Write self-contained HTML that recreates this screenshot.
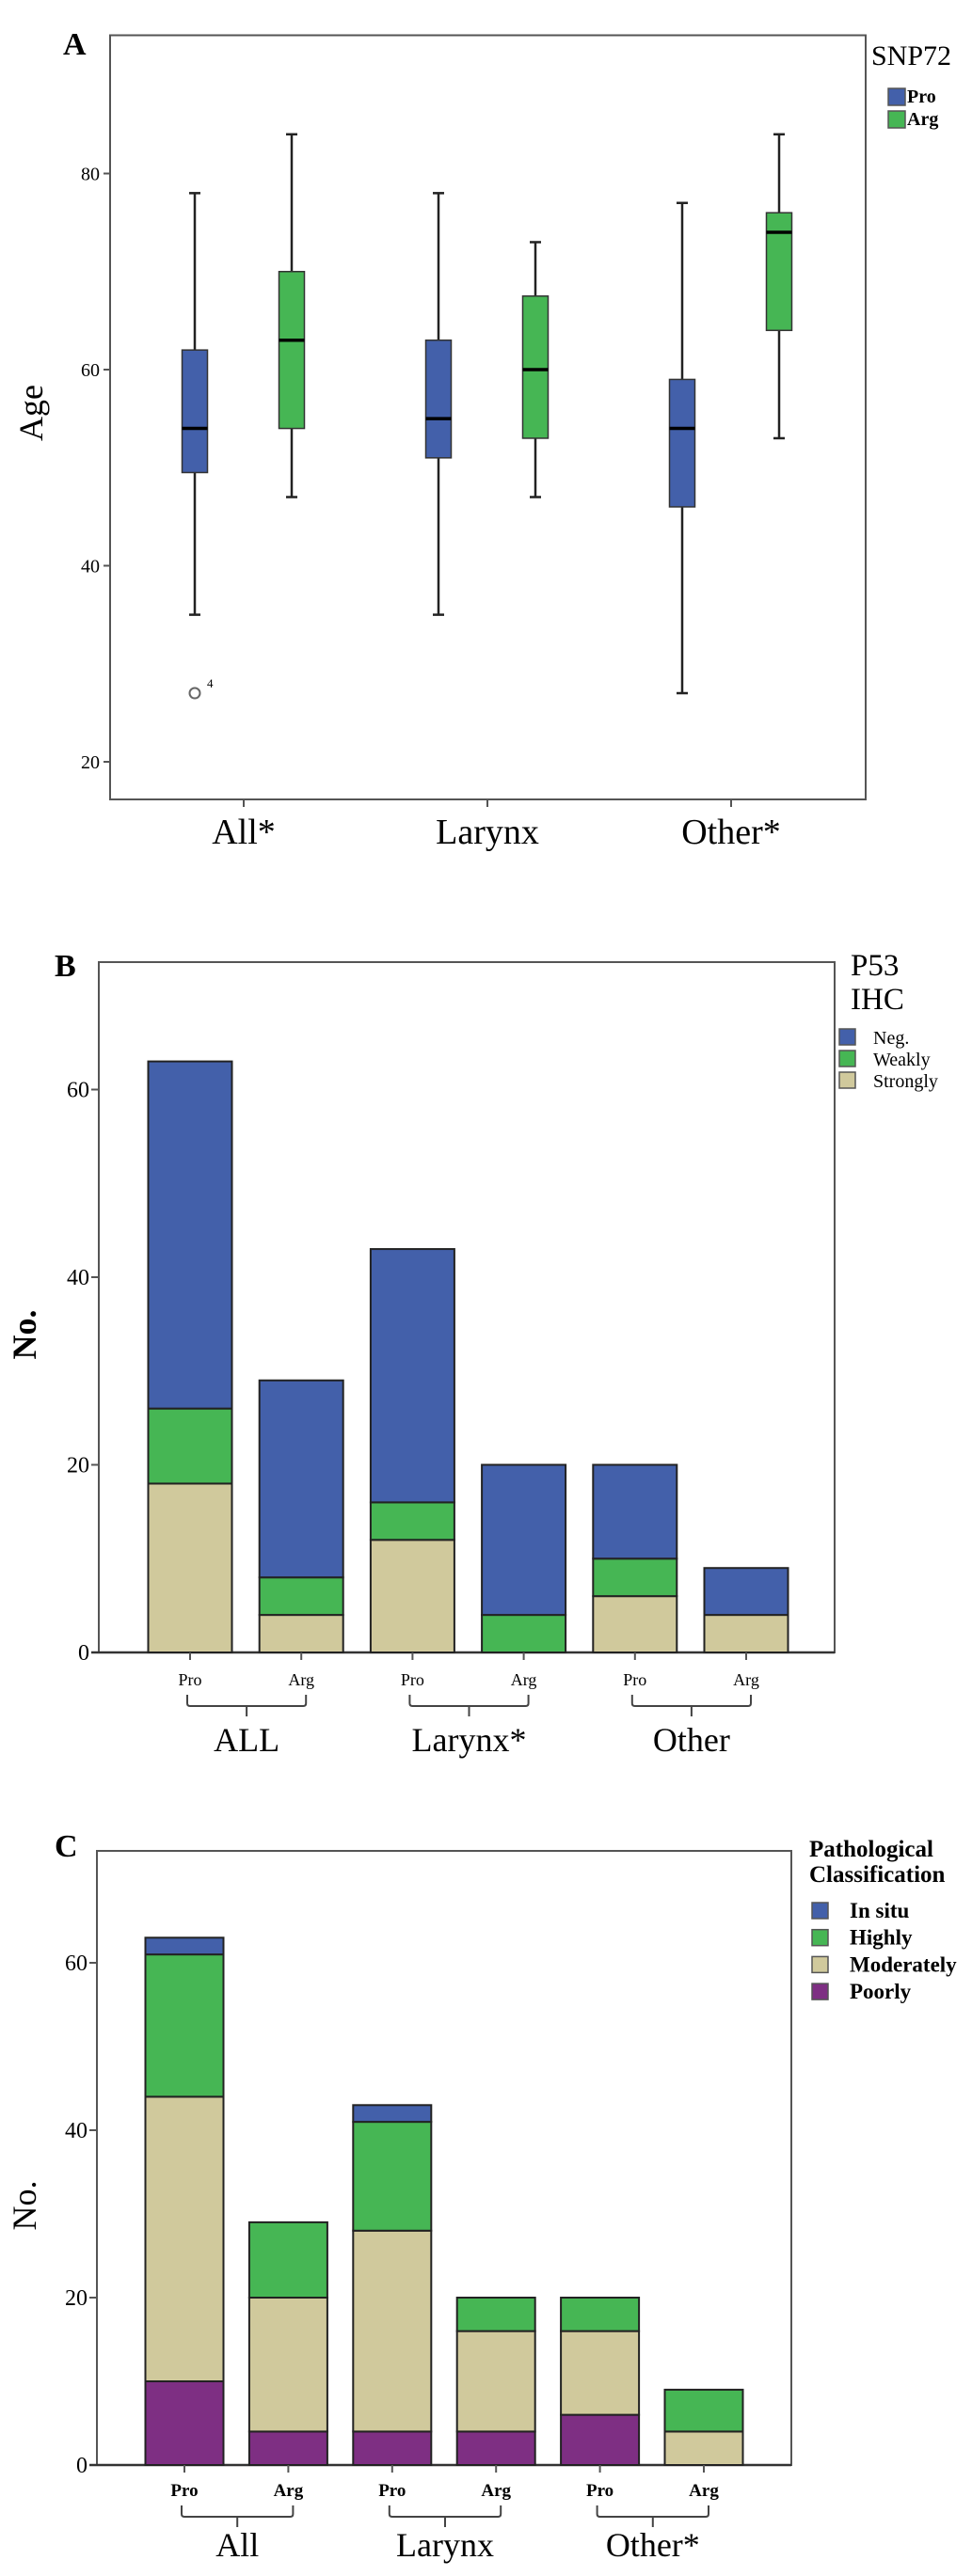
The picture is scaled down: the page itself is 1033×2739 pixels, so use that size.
<!DOCTYPE html>
<html><head><meta charset="utf-8">
<style>
html,body{margin:0;padding:0;background:#fff;}
svg{display:block;font-family:"Liberation Serif",serif;}
</style></head>
<body>
<svg id="fig" width="1033" height="2739" viewBox="0 0 1033 2739"></svg>
<script>
// ---------- Panel A data ----------
const aCategories = ["All*", "Larynx", "Other*"];
const aGroups = ["Pro", "Arg"];
const aWhiskerLow = [[35, 47], [35, 47], [27, 53]];
const aQ1 = [[49.5, 54], [51, 53], [46, 64]];
const aMedian = [[54, 63], [55, 60], [54, 74]];
const aQ3 = [[62, 70], [63, 67.5], [59, 76]];
const aWhiskerHigh = [[78, 84], [78, 73], [77, 84]];
const aOutliers = [[0, 0, 27, "4"]];
const aTicks = [20, 40, 60, 80];
// ---------- Panel B data ----------
const bBars = ["Pro", "Arg", "Pro", "Arg", "Pro", "Arg"];
const bGroupLabels = ["ALL", "Larynx*", "Other"];
const bSeries = ["Strongly", "Weakly", "Neg."];
const bStrongly = [18, 4, 12, 0, 6, 4];
const bWeakly = [8, 4, 4, 4, 4, 0];
const bNeg = [37, 21, 27, 16, 10, 5];
const bTicks = [0, 20, 40, 60];
// ---------- Panel C data ----------
const cBars = ["Pro", "Arg", "Pro", "Arg", "Pro", "Arg"];
const cGroupLabels = ["All", "Larynx", "Other*"];
const cSeries = ["Poorly", "Moderately", "Highly", "In situ"];
const cPoorly = [10, 4, 4, 4, 6, 0];
const cModerately = [34, 16, 24, 12, 10, 4];
const cHighly = [17, 9, 13, 4, 4, 5];
const cInSitu = [2, 0, 2, 0, 0, 0];
const cTicks = [0, 20, 40, 60];

const NS = "http://www.w3.org/2000/svg";
const svg = document.getElementById("fig");
function mk(tag, attrs, parent, text) {
  const e = document.createElementNS(NS, tag);
  for (const k in attrs) e.setAttribute(k, attrs[k]);
  if (text !== undefined) e.textContent = text;
  (parent || svg).appendChild(e);
  return e;
}
const BLUE = "#4360aa", GREEN = "#46b654", TAN = "#d0c99c", PURPLE = "#7e2f83", AX = "#555";

// ================= Panel A =================
{
  const g = mk("g", {});
  
  
  const yA = v => 810 - (v - 20) * (208.5 / 20);
  const xCat = i => 259 + i * 259;
  const off = [-52, 51];
  const colors = [BLUE, GREEN];
  let t = mk("text", {x: 67, y: 58, "font-size": 34, "font-weight": "bold"}, g, "A");
  
  
  let r = mk("rect", {x: 117, y: 37.5, width: 803, height: 812.5, fill: "none", stroke: AX, "stroke-width": 2}, g);
  
  
  aTicks.forEach(v => {
    mk("line", {x1: 110, x2: 117, y1: yA(v), y2: yA(v), stroke: AX, "stroke-width": 2}, g);
    const tl = mk("text", {x: 106, y: yA(v) + 7, "font-size": 20, "text-anchor": "end"}, g, v);
    
    
  });
  aCategories.forEach((c, i) => {
    mk("line", {x1: xCat(i), x2: xCat(i), y1: 850, y2: 858, stroke: AX, "stroke-width": 2}, g);
    const cl = mk("text", {x: xCat(i), y: 897, "font-size": 38, "text-anchor": "middle"}, g, c);
    
    
    aGroups.forEach((gr, j) => {
      const cx = xCat(i) + off[j], w = 27;
      const bg = mk("g", {}, g);
      
      
      mk("line", {x1: cx, x2: cx, y1: yA(aWhiskerHigh[i][j]), y2: yA(aWhiskerLow[i][j]), stroke: "#222", "stroke-width": 2.5}, bg);
      mk("line", {x1: cx - 6, x2: cx + 6, y1: yA(aWhiskerHigh[i][j]), y2: yA(aWhiskerHigh[i][j]), stroke: "#222", "stroke-width": 2.5}, bg);
      mk("line", {x1: cx - 6, x2: cx + 6, y1: yA(aWhiskerLow[i][j]), y2: yA(aWhiskerLow[i][j]), stroke: "#222", "stroke-width": 2.5}, bg);
      mk("rect", {x: cx - w / 2, y: yA(aQ3[i][j]), width: w, height: yA(aQ1[i][j]) - yA(aQ3[i][j]), fill: colors[j], stroke: "#333", "stroke-width": 1.5}, bg);
      mk("line", {x1: cx - w / 2, x2: cx + w / 2, y1: yA(aMedian[i][j]), y2: yA(aMedian[i][j]), stroke: "#000", "stroke-width": 3.5}, bg);
    });
  });
  aOutliers.forEach(o => {
    const cx = xCat(o[0]) + off[o[1]];
    const oc = mk("circle", {cx: cx, cy: yA(o[2]), r: 5.5, fill: "#fff", stroke: "#666", "stroke-width": 2}, g);
    
    
    mk("text", {x: cx + 13, y: yA(o[2]) - 6, "font-size": 13}, g, o[3]);
  });
  const yl = mk("text", {x: 0, y: 0, "font-size": 36, "text-anchor": "middle", transform: "translate(45,439) rotate(-90)"}, g, "Age");
  
  
  const lg = mk("g", {}, g);
  
  
  mk("text", {x: 926, y: 69, "font-size": 30}, lg, "SNP72");
  aGroups.forEach((gr, j) => {
    const y0 = 94 + j * 24;
    mk("rect", {x: 944, y: y0, width: 18, height: 18, fill: colors[j], stroke: "#555", "stroke-width": 1.5}, lg);
    mk("text", {x: 964, y: y0 + 15, "font-size": 20, "font-weight": "bold"}, lg, gr);
  });
}

// Generic stacked bar panel
function stacked(cfg) {
  const g = mk("g", {});
  
  
  const y = v => cfg.y0 - v * cfg.unit;
  const x = i => cfg.x0 + i * cfg.step;
  const pl = mk("text", {x: cfg.labelX, y: cfg.labelY, "font-size": 34, "font-weight": "bold"}, g, cfg.letter);
  
  
  const fr = mk("rect", {x: cfg.left, y: cfg.top, width: cfg.right - cfg.left, height: cfg.y0 - cfg.top, fill: "none", stroke: AX, "stroke-width": 2}, g);
  
  
  cfg.ticks.forEach(v => {
    mk("line", {x1: cfg.left - 8, x2: cfg.left, y1: y(v), y2: y(v), stroke: AX, "stroke-width": 2}, g);
    const tl = mk("text", {x: cfg.left - 10, y: y(v) + 8, "font-size": 24, "text-anchor": "end"}, g, v);
    
    
  });
  mk("line", {x1: cfg.left - 8, x2: cfg.right, y1: cfg.y0, y2: cfg.y0, stroke: "#333", "stroke-width": 2.5}, g);
  cfg.bars.forEach((b, i) => {
    let acc = 0;
    cfg.series.forEach((s, k) => {
      const v = cfg.values[k][i];
      if (v > 0) {
        const r = mk("rect", {x: x(i) - cfg.w / 2, y: y(acc + v), width: cfg.w, height: v * cfg.unit, fill: cfg.colors[k], stroke: "#222", "stroke-width": 2}, g);
        
        
      }
      acc += v;
    });
    mk("line", {x1: x(i), x2: x(i), y1: cfg.y0, y2: cfg.y0 + 8, stroke: AX, "stroke-width": 2}, g);
    const bl = mk("text", {x: x(i), y: cfg.tickY, "font-size": cfg.tickFs, "font-weight": cfg.tickBold ? "bold" : "normal", "text-anchor": "middle"}, g, b);
    
    
  });
  cfg.groups.forEach((gl, k) => {
    const a = x(2 * k) - 3, bEnd = x(2 * k + 1) + 5, m = (a + bEnd) / 2;
    const br = mk("path", {d: `M${a} ${cfg.brY} v9 q0 3 3 3 H${bEnd - 3} q3 0 3 -3 v-9 M${m} ${cfg.brY + 12} v11`, fill: "none", stroke: "#444", "stroke-width": 2}, g);
    
    
    const t = mk("text", {x: m, y: cfg.groupY, "font-size": 36, "text-anchor": "middle"}, g, gl);
    
    
  });
  const yt = mk("text", {x: 0, y: 0, "font-size": 36, "font-weight": cfg.yBold ? "bold" : "normal", "text-anchor": "middle", transform: `translate(${cfg.yTitleX},${cfg.yTitleY}) rotate(-90)`}, g, "No.");
  
  
  const lg = mk("g", {}, g);
  
  
  cfg.legendTitle.forEach((tt, k) => mk("text", {x: cfg.legX, y: cfg.legTitleY[k], "font-size": cfg.legTitleFs, "font-weight": cfg.legBold ? "bold" : "normal"}, lg, tt));
  cfg.legendOrder.forEach((k, r) => {
    const yy = cfg.legRowY + r * cfg.legRowH;
    const sw = mk("rect", {x: cfg.swX, y: yy, width: cfg.swS, height: cfg.swS, fill: cfg.colors[k], stroke: "#555", "stroke-width": 1.5}, lg);
    
    
    mk("text", {x: cfg.legTextX, y: yy + cfg.swS - 1, "font-size": cfg.legFs, "font-weight": cfg.legBold ? "bold" : "normal"}, lg, cfg.series[k]);
  });
}

stacked({
  name: "panel-b-stacked-bars", letter: "B", labelX: 58, labelY: 1038,
  left: 105, right: 887, top: 1023, y0: 1757, unit: 199.5 / 20,
  x0: 202, step: 118.2, w: 89, ticks: bTicks, bars: bBars, groups: bGroupLabels,
  series: bSeries, values: [bStrongly, bWeakly, bNeg], colors: [TAN, GREEN, BLUE],
  tickY: 1792, tickFs: 18, tickBold: false, brY: 1802, groupY: 1862,
  yTitleX: 38, yTitleY: 1419, yBold: true,
  legendTitle: ["P53", "IHC"], legTitleY: [1037, 1073], legTitleFs: 33, legX: 904,
  legendOrder: [2, 1, 0], legRowY: 1094, legRowH: 23, swX: 892, swS: 17, legTextX: 928, legFs: 20, legBold: false
});

stacked({
  name: "panel-c-stacked-bars", letter: "C", labelX: 58, labelY: 1974,
  left: 103, right: 841, top: 1968, y0: 2621, unit: 178 / 20,
  x0: 196, step: 110.4, w: 83, ticks: cTicks, bars: cBars, groups: cGroupLabels,
  series: cSeries, values: [cPoorly, cModerately, cHighly, cInSitu], colors: [PURPLE, TAN, GREEN, BLUE],
  tickY: 2654, tickFs: 19, tickBold: true, brY: 2664, groupY: 2718,
  yTitleX: 38, yTitleY: 2345, yBold: false,
  legendTitle: ["Pathological", "Classification"], legTitleY: [1974, 2001], legTitleFs: 25, legX: 860,
  legendOrder: [3, 2, 1, 0], legRowY: 2023, legRowH: 28.7, swX: 863, swS: 17, legTextX: 903, legFs: 23, legBold: true
});
</script>
</body></html>
